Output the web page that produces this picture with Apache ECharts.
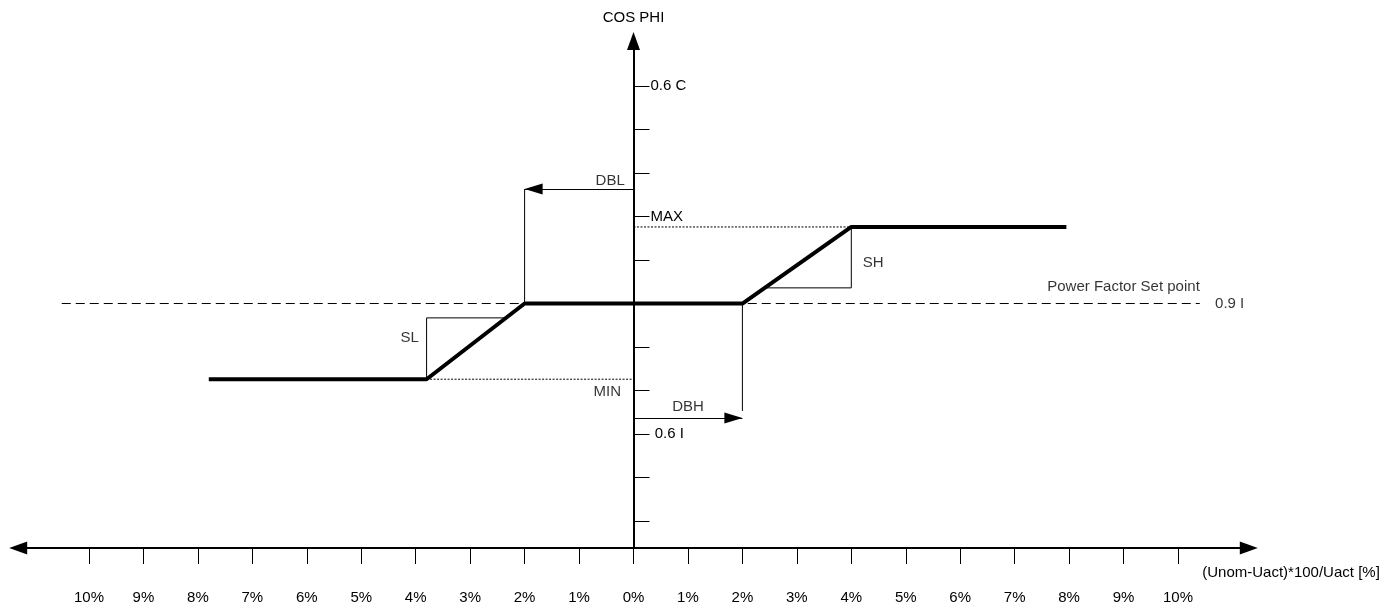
<!DOCTYPE html>
<html>
<head>
<meta charset="utf-8">
<title>COS PHI regulation</title>
<script src="https://cdn.jsdelivr.net/npm/echarts@6/dist/echarts.min.js"></script>
<style>
  html, body { margin: 0; padding: 0; background: #fff; }
  #chart { width: 1394px; height: 606px; }
</style>
</head>
<body>
<div id="chart"></div>
<script>
// x = deviation in %, y = cos phi in tick steps (0.6 I = 2, set point 0.9 I = 5, 0.6 C = 10)
const xTicks = [-10, -9, -8, -7, -6, -5, -4, -3, -2, -1, 0, 1, 2, 3, 4, 5, 6, 7, 8, 9, 10]
const yTicks = [0, 1, 2, 3, 4, 5, 6, 7, 8, 9, 10]
const yLabelValues = [10, 7, 2]
const yLabelTexts = ['0.6 C', 'MAX', '0.6 I']

// regulation curve
const curveX = [-7.8, -3.8, -2, 2, 4, 7.95]
const curveY = [3.26, 3.26, 5, 5, 6.76, 6.76]

// set point / limits
const setPointY = 5
const setPointX = [-10.5, 10.4]
const minLevel = 3.26
const minLineX = [-3.8, 0]
const maxLevel = 6.76
const maxLineX = [0, 4]

// slope triangles
const slX = [-2.34, -3.8, -3.8]
const slY = [4.67, 4.67, 3.26]
const shX = [2.41, 4, 4]
const shY = [5.36, 5.36, 6.76]

// dead bands
const dblX = [-2, -2]
const dblY = [5, 7.63]
const dblArrowX = [0, -2]
const dblArrowY = 7.63
const dbhX = [2, 2]
const dbhY = [5, 2.53]
const dbhArrowX = [0, 2]
const dbhArrowY = 2.37

// annotations
const rightTexts = ['Power Factor Set point', 'MIN', 'DBL', 'SL']
const rightX = [10.4, -0.23, -0.16, -3.94]
const rightY = [5.38, 2.97, 7.82, 4.21]
const leftTexts = ['0.9 I', 'DBH', 'SH']
const leftX = [10.68, 0.71, 4.21]
const leftY = [5, 2.62, 5.93]

const chart = echarts.init(document.getElementById('chart'))

const zip = (xs, ys) => xs.map((x, i) => [x, ys[i]])
const thin = { color: '#000', width: 1 }

// grid geometry; the y axis is moved onto x = 0 with offset so its labels follow
const gridLeft = 18.2
const gridRight = 145.2
const xMin = -11.3
const xMax = 11.3
const plotWidth = 1394 - gridLeft - gridRight
const yAxisOffset = -plotWidth * (0 - xMin) / (xMax - xMin)

function segment(data, style) {
  return {
    type: 'line',
    data,
    symbol: 'none',
    silent: true,
    lineStyle: style
  }
}

function arrow(xs, y) {
  return {
    type: 'line',
    data: [],
    silent: true,
    markLine: {
      silent: true,
      symbol: ['none', 'triangle'],
      symbolSize: [11, 18],
      symbolOffset: [0, [0, '50%']],
      label: { show: false },
      lineStyle: { color: '#000', width: 1, type: 'solid' },
      data: [[{ coord: [xs[0], y] }, { coord: [xs[1], y] }]]
    }
  }
}

function labels(texts, xs, ys, align) {
  return {
    type: 'scatter',
    silent: true,
    clip: false,
    symbolSize: 0,
    data: texts.map((t, i) => ({ name: t, value: [xs[i], ys[i]] })),
    label: {
      show: true,
      position: 'inside',
      align,
      verticalAlign: 'middle',
      formatter: p => p.name,
      color: '#000',
      textBorderWidth: 0,
      fontSize: 15
    }
  }
}

const option = {
  animation: false,
  textStyle: { fontFamily: 'Liberation Sans, Arial, sans-serif' },
  grid: { left: gridLeft, right: gridRight, top: 41, bottom: 58 },
  xAxis: {
    type: 'value',
    min: xMin,
    max: xMax,
    name: '(Unom-Uact)*100/Uact [%]',
    nameLocation: 'end',
    nameGap: 131,
    nameTextStyle: {
      color: '#000', fontSize: 15, align: 'right', verticalAlign: 'top', padding: [17, 0, 0, 0]
    },
    splitLine: { show: false },
    axisLine: {
      onZero: false,
      symbol: ['triangle', 'triangle'],
      symbolSize: [13, 18],
      lineStyle: { color: '#000', width: 2 }
    },
    axisTick: {
      customValues: xTicks,
      length: 16,
      lineStyle: { color: '#000', width: 1 }
    },
    axisLabel: {
      customValues: xTicks,
      margin: 42,
      color: '#000',
      fontSize: 15,
      formatter: v => Math.abs(v) + '%'
    }
  },
  yAxis: {
    type: 'value',
    min: -0.62,
    max: 11.035,
    offset: yAxisOffset,
    name: 'COS PHI',
    nameLocation: 'end',
    nameGap: 16,
    nameTextStyle: { color: '#000', fontSize: 15 },
    splitLine: { show: false },
    axisLine: {
      onZero: false,
      symbol: ['none', 'triangle'],
      symbolSize: [13, 18],
      lineStyle: { color: '#000', width: 2 }
    },
    axisTick: {
      customValues: yTicks,
      inside: true,
      length: 16,
      lineStyle: { color: '#000', width: 1 }
    },
    axisLabel: {
      customValues: yLabelValues,
      inside: true,
      margin: 17,
      color: '#000',
      fontSize: 15,
      formatter: v => {
        const t = yLabelTexts[yLabelValues.indexOf(v)]
        return v === 2 ? ' ' + t : t
      }
    }
  },
  series: [
    segment(zip(setPointX, [setPointY, setPointY]), { color: '#000', width: 1, type: [9, 5] }),
    segment(zip(minLineX, [minLevel, minLevel]), { color: '#000', width: 1, type: [2, 1.5] }),
    segment(zip(maxLineX, [maxLevel, maxLevel]), { color: '#000', width: 1, type: [2, 1.5] }),
    segment(zip(slX, slY), thin),
    segment(zip(shX, shY), thin),
    segment(zip(dblX, dblY), thin),
    segment(zip(dbhX, dbhY), thin),
    arrow(dblArrowX, dblArrowY),
    arrow(dbhArrowX, dbhArrowY),
    segment(zip(curveX, curveY), { color: '#000', width: 4 }),
    labels(rightTexts, rightX, rightY, 'right'),
    labels(leftTexts, leftX, leftY, 'left')
  ]
}

chart.setOption(option)
</script>
</body>
</html>
